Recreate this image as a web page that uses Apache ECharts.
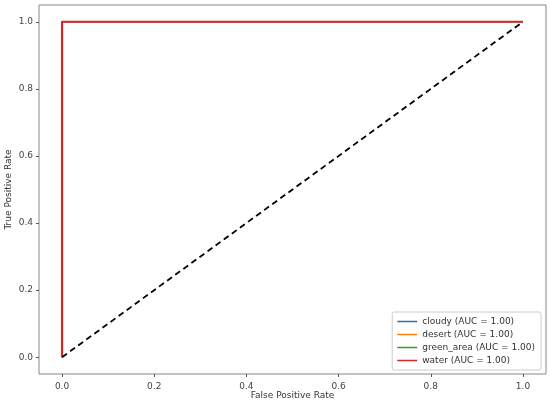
<!DOCTYPE html>
<html><head><meta charset="utf-8">
<script src="https://cdn.jsdelivr.net/npm/echarts@6/dist/echarts.min.js"></script>
<style>html,body{margin:0;padding:0;background:#fff}#c{width:550px;height:402px}</style>
</head><body><div id="c"></div>
<script>
const classNames = ['cloudy', 'desert', 'green_area', 'water'];
const aucValues = [1.00, 1.00, 1.00, 1.00];
const colors = ['#1f77b4', '#ff7f0e', '#2ca02c', '#d62728'];
const rocFpr = [[0, 0, 1], [0, 0, 1], [0, 0, 1], [0, 0, 1]];
const rocTpr = [[0, 1, 1], [0, 1, 1], [0, 1, 1], [0, 1, 1]];
const diagX = [0, 1];
const diagY = [0, 1];
const tickValues = [0, 0.2, 0.4, 0.6, 0.8, 1.0];

const chart = echarts.init(document.getElementById('c'));
const font = 'DejaVu Sans';
const series = classNames.map((n, i) => ({
  name: n + ' (AUC = ' + aucValues[i].toFixed(2) + ')',
  type: 'line',
  data: rocFpr[i].map((x, j) => [x, rocTpr[i][j]]),
  symbol: 'none',
  lineStyle: { color: colors[i], width: i === classNames.length - 1 ? 2.2 : 1.2 },
  itemStyle: { color: colors[i] },
  z: 2 + i,
  animation: false
}));
series.push({
  name: 'diag', type: 'line',
  data: diagX.map((x, j) => [x, diagY[j]]),
  symbol: 'none',
  lineStyle: { color: '#000', width: 1.8, type: [6, 4] },
  z: 10, animation: false
});
function axis(name, isY) {
  return {
    type: 'value', min: -0.05, max: 1.05,
    name: name, nameLocation: 'middle', nameGap: isY ? 26 : 17, nameMoveOverlap: false,
    nameTextStyle: { fontFamily: font, fontSize: 9, color: '#333' },
    axisLine: { show: false, onZero: false },
    splitLine: { show: false },
    axisTick: { show: true, customValues: tickValues, length: 3, lineStyle: { color: '#555' } },
    axisLabel: { show: true, customValues: tickValues, fontFamily: font, fontSize: 9, color: '#444', margin: isY ? 6 : 8,
      formatter: v => v.toFixed(1) }
  };
}
chart.setOption({
  animation: false,
  grid: { left: 39, right: 4, top: 5, bottom: 28, outerBoundsMode: 'none', containLabel: false,
    show: true, borderColor: '#888', borderWidth: 1, backgroundColor: 'transparent' },
  xAxis: axis('False Positive Rate', false),
  yAxis: axis('True Positive Rate', true),
  legend: {
    data: classNames.map((n, i) => n + ' (AUC = ' + aucValues[i].toFixed(2) + ')'),
    orient: 'vertical', right: 9, bottom: 32,
    icon: 'rect', itemWidth: 20, itemHeight: 1.5, itemGap: 4,
    padding: [5, 6, 5, 5],
    backgroundColor: '#fff', borderColor: '#ccc', borderWidth: 1, borderRadius: 2,
    textStyle: { fontFamily: font, fontSize: 9, color: '#333' }
  },
  series: series
});
</script></body></html>
